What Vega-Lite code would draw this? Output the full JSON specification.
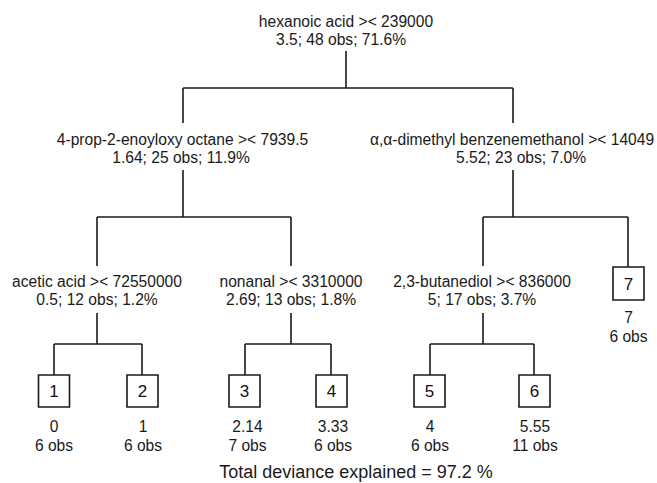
{
  "$schema": "https://vega.github.io/schema/vega-lite/v6.json",
  "width": 657,
  "height": 483,
  "padding": 0,
  "autosize": {"type": "none"},
  "background": "white",
  "config": {"view": {"stroke": null}, "font": "Liberation Sans"},
  "datasets": {
    "edges": [
      {"x": 346, "y": 51, "x2": 346, "y2": 88},
      {"x": 183, "y": 88, "x2": 513, "y2": 88},
      {"x": 183, "y": 88, "x2": 183, "y2": 123},
      {"x": 513, "y": 88, "x2": 513, "y2": 123},
      {"x": 183, "y": 170, "x2": 183, "y2": 217},
      {"x": 97, "y": 217, "x2": 291, "y2": 217},
      {"x": 97, "y": 217, "x2": 97, "y2": 266},
      {"x": 291, "y": 217, "x2": 291, "y2": 266},
      {"x": 513, "y": 170, "x2": 513, "y2": 217},
      {"x": 483, "y": 217, "x2": 628, "y2": 217},
      {"x": 483, "y": 217, "x2": 483, "y2": 266},
      {"x": 628, "y": 217, "x2": 628, "y2": 267},
      {"x": 97, "y": 313, "x2": 97, "y2": 344},
      {"x": 54, "y": 344, "x2": 142, "y2": 344},
      {"x": 54, "y": 344, "x2": 54, "y2": 375},
      {"x": 142, "y": 344, "x2": 142, "y2": 375},
      {"x": 291, "y": 313, "x2": 291, "y2": 344},
      {"x": 245, "y": 344, "x2": 331, "y2": 344},
      {"x": 245, "y": 344, "x2": 245, "y2": 375},
      {"x": 331, "y": 344, "x2": 331, "y2": 375},
      {"x": 483, "y": 313, "x2": 483, "y2": 344},
      {"x": 430, "y": 344, "x2": 534, "y2": 344},
      {"x": 430, "y": 344, "x2": 430, "y2": 375},
      {"x": 534, "y": 344, "x2": 534, "y2": 375}
    ],
    "boxes": [
      {"leaf": "1", "x": 38.5, "x2": 69.5, "y": 375, "y2": 407, "cx": 54, "cy": 391},
      {"leaf": "2", "x": 127, "x2": 158, "y": 375, "y2": 407, "cx": 142.5, "cy": 391},
      {"leaf": "3", "x": 229, "x2": 260, "y": 375, "y2": 407, "cx": 244.5, "cy": 391},
      {"leaf": "4", "x": 316, "x2": 347, "y": 375, "y2": 407, "cx": 331.5, "cy": 391},
      {"leaf": "5", "x": 414, "x2": 445, "y": 375, "y2": 407, "cx": 429.5, "cy": 391},
      {"leaf": "6", "x": 519, "x2": 550, "y": 375, "y2": 407, "cx": 534.5, "cy": 391},
      {"leaf": "7", "x": 613, "x2": 644, "y": 267, "y2": 300, "cx": 628.5, "cy": 283.5}
    ],
    "labels": [
      {"kind": "split", "text": "hexanoic acid >< 239000", "x": 346, "y": 27},
      {"kind": "split", "text": "3.5; 48 obs; 71.6%", "x": 341, "y": 45},
      {"kind": "split", "text": "4-prop-2-enoyloxy octane >< 7939.5", "x": 182.5, "y": 145},
      {"kind": "split", "text": "1.64; 25 obs; 11.9%", "x": 181, "y": 163},
      {"kind": "split", "text": "α,α-dimethyl benzenemethanol >< 14049", "x": 512, "y": 145},
      {"kind": "split", "text": "5.52; 23 obs; 7.0%", "x": 521, "y": 163},
      {"kind": "split", "text": "acetic acid >< 72550000", "x": 97, "y": 287},
      {"kind": "split", "text": "0.5; 12 obs; 1.2%", "x": 97, "y": 305},
      {"kind": "split", "text": "nonanal >< 3310000", "x": 291, "y": 287},
      {"kind": "split", "text": "2.69; 13 obs; 1.8%", "x": 291, "y": 305},
      {"kind": "split", "text": "2,3-butanediol >< 836000", "x": 482, "y": 287},
      {"kind": "split", "text": "5; 17 obs; 3.7%", "x": 482, "y": 305},
      {"kind": "split", "text": "0", "x": 54, "y": 432},
      {"kind": "split", "text": "6 obs", "x": 54, "y": 451},
      {"kind": "split", "text": "1", "x": 143, "y": 432},
      {"kind": "split", "text": "6 obs", "x": 143, "y": 451},
      {"kind": "split", "text": "2.14", "x": 247.5, "y": 432},
      {"kind": "split", "text": "7 obs", "x": 247.5, "y": 451},
      {"kind": "split", "text": "3.33", "x": 333, "y": 432},
      {"kind": "split", "text": "6 obs", "x": 333, "y": 451},
      {"kind": "split", "text": "4", "x": 430, "y": 432},
      {"kind": "split", "text": "6 obs", "x": 430, "y": 451},
      {"kind": "split", "text": "5.55", "x": 535, "y": 432},
      {"kind": "split", "text": "11 obs", "x": 535, "y": 451},
      {"kind": "split", "text": "7", "x": 628.5, "y": 323},
      {"kind": "split", "text": "6 obs", "x": 628.5, "y": 342},
      {"kind": "title", "text": "Total deviance explained = 97.2 %", "x": 356, "y": 478}
    ]
  },
  "layer": [
    {
      "data": {"name": "edges"},
      "mark": {"type": "rule", "color": "#1a1a1a", "strokeWidth": 1.6},
      "encoding": {
        "x": {"field": "x", "type": "quantitative", "scale": {"domain": [0, 657], "nice": false, "zero": false}, "axis": null},
        "y": {"field": "y", "type": "quantitative", "scale": {"domain": [0, 483], "nice": false, "zero": false, "reverse": true}, "axis": null},
        "x2": {"field": "x2"},
        "y2": {"field": "y2"}
      }
    },
    {
      "data": {"name": "boxes"},
      "mark": {"type": "rect", "fill": "white", "stroke": "#1a1a1a", "strokeWidth": 1.6},
      "encoding": {
        "x": {"field": "x", "type": "quantitative", "scale": {"domain": [0, 657], "nice": false, "zero": false}, "axis": null},
        "y": {"field": "y", "type": "quantitative", "scale": {"domain": [0, 483], "nice": false, "zero": false, "reverse": true}, "axis": null},
        "x2": {"field": "x2"},
        "y2": {"field": "y2"}
      }
    },
    {
      "data": {"name": "boxes"},
      "mark": {"type": "text", "fontSize": 17, "baseline": "middle", "align": "center", "color": "#111", "dy": 1},
      "encoding": {
        "x": {"field": "cx", "type": "quantitative", "scale": {"domain": [0, 657], "nice": false, "zero": false}, "axis": null},
        "y": {"field": "cy", "type": "quantitative", "scale": {"domain": [0, 483], "nice": false, "zero": false, "reverse": true}, "axis": null},
        "text": {"field": "leaf"}
      }
    },
    {
      "data": {"name": "labels"},
      "transform": [{"filter": "datum.kind === 'split'"}],
      "mark": {"type": "text", "fontSize": 15.6, "baseline": "alphabetic", "align": "center", "color": "#1a1a1a"},
      "encoding": {
        "x": {"field": "x", "type": "quantitative", "scale": {"domain": [0, 657], "nice": false, "zero": false}, "axis": null},
        "y": {"field": "y", "type": "quantitative", "scale": {"domain": [0, 483], "nice": false, "zero": false, "reverse": true}, "axis": null},
        "text": {"field": "text"}
      }
    },
    {
      "data": {"name": "labels"},
      "transform": [{"filter": "datum.kind === 'title'"}],
      "mark": {"type": "text", "fontSize": 18, "baseline": "alphabetic", "align": "center", "color": "#1a1a1a"},
      "encoding": {
        "x": {"field": "x", "type": "quantitative", "scale": {"domain": [0, 657], "nice": false, "zero": false}, "axis": null},
        "y": {"field": "y", "type": "quantitative", "scale": {"domain": [0, 483], "nice": false, "zero": false, "reverse": true}, "axis": null},
        "text": {"field": "text"}
      }
    }
  ]
}
